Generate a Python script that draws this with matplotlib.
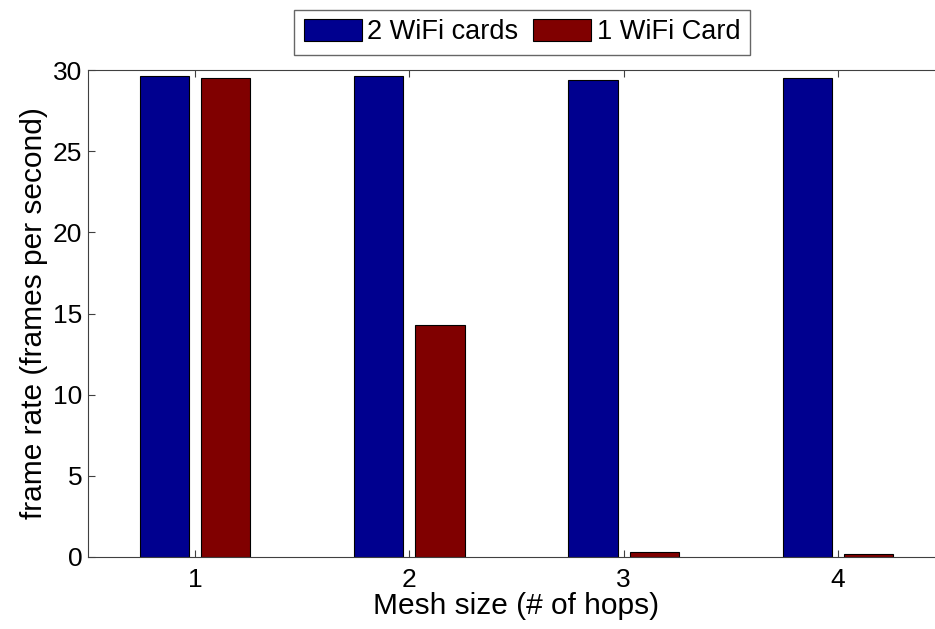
import numpy as np
import matplotlib
matplotlib.use("Agg")
import matplotlib.pyplot as plt

plt.rcParams['font.family'] = ['Liberation Sans', 'DejaVu Sans']

hops = [1, 2, 3, 4]
two_cards = [29.6, 29.65, 29.4, 29.5]
one_card = [29.5, 14.3, 0.3, 0.2]
labels = ['2 WiFi cards', '1 WiFi Card']

fig = plt.figure(figsize=(9.35, 6.29), dpi=100)
# axes runs off the right edge like the original screenshot
ax = fig.add_axes([88 / 935, 1 - 557 / 629, 857 / 935, 487 / 629])

x = np.array(hops)
w = 0.23
ax.bar(x - 0.143, two_cards, w, color='#00008f', edgecolor='black', linewidth=0.8, label=labels[0])
ax.bar(x + 0.143, one_card, w, color='#800000', edgecolor='black', linewidth=0.8, label=labels[1])

ax.set_xlim(0.5, 4.5)
ax.set_ylim(0, 30)
ax.set_xticks(hops)
ax.set_yticks([0, 5, 10, 15, 20, 25, 30])
ax.tick_params(direction='in', top=True, right=True, length=5, labelsize=19,
               colors='#404040', labelcolor='black', pad=4)
ax.tick_params(axis='x', pad=8)
for s in ax.spines.values():
    s.set_color('#404040')

ax.set_xlabel('Mesh size (# of hops)', fontsize=21.5, labelpad=0)
ax.set_ylabel('frame rate (frames per second)', fontsize=21.5, labelpad=4)

leg = fig.legend(loc='upper center', bbox_to_anchor=(522 / 935, 0.993), ncol=2, fontsize=19.5,
                 fancybox=False, frameon=True, edgecolor='#404040', handlelength=2.15, handleheight=0.85,
                 columnspacing=0.55, handletextpad=0.2, borderpad=0.35, borderaxespad=0.2)
leg.get_frame().set_linewidth(1.0)

fig.savefig('out.png', dpi=100)
